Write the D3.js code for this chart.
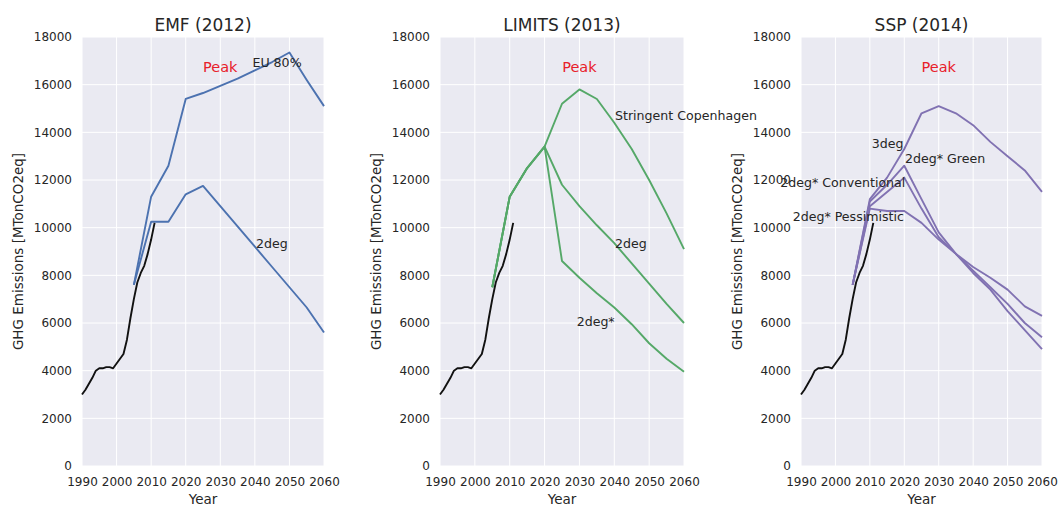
<!DOCTYPE html>
<html>
<head>
<meta charset="utf-8">
<script src="https://cdn.jsdelivr.net/npm/d3@7"></script>
<style>
  html, body { margin: 0; padding: 0; background: #fff; }
  svg { display: block; font-family: "DejaVu Sans", sans-serif; }
</style>
</head>
<body>
<svg id="chart" width="1059" height="506"></svg>
<script>
// ---------------- data ----------------
const histYears  = [1990,1991,1992,1993,1994,1995,1996,1997,1998,1999,2000,2001,2002,2003,2004,2005,2006,2007,2008,2009,2010,2011];
const histValues = [3000,3200,3450,3700,4000,4100,4100,4150,4150,4100,4300,4500,4700,5300,6200,7000,7700,8100,8400,8900,9500,10200];

const scenYears = [2005,2010,2015,2020,2025,2030,2035,2040,2045,2050,2055,2060];

// EMF (2012)
const emfEU80 = [7600,11300,12600,15400,15650,15950,16250,16600,16950,17350,16200,15100];
const emf2deg = [7600,10250,10250,11400,11750,10900,10050,9200,8350,7500,6650,5600];

// LIMITS (2013)
const limitsStringent = [7500,11300,12500,13400,15200,15800,15400,14400,13300,12000,10600,9100];
const limits2deg      = [7500,11300,12500,13400,11800,10900,10100,9350,8500,7650,6800,6000];
const limits2degStar  = [7500,11300,12500,13400,8600,7900,7250,6650,5950,5150,4500,3950];

// SSP (2014)
const ssp3deg          = [7600,11200,12100,13300,14800,15100,14800,14300,13600,13000,12400,11500];
const sspGreen         = [7600,11100,11800,12600,11200,9800,8900,8100,7400,6500,5700,4900];
const sspConventional  = [7600,10900,11500,12100,10800,9600,8900,8350,7900,7400,6700,6300];
const sspPessimistic   = [7600,10800,10700,10700,10200,9500,8900,8200,7500,6800,6000,5400];

const panelTitles = ["EMF (2012)", "LIMITS (2013)", "SSP (2014)"];
const xTicks = [1990,2000,2010,2020,2030,2040,2050,2060];
const yTicks = [0,2000,4000,6000,8000,10000,12000,14000,16000,18000];
const yLabel = "GHG Emissions [MTonCO2eq]";
const xLabel = "Year";
const peakLabel = "Peak";

// labels: [text, year, value, anchor]
const panels = [
  { title: panelTitles[0], color: "#4C72B0", left: 82, right: 324,
    series: [emfEU80, emf2deg],
    labels: [["EU 80%", 2039.3, 16950, "start"], ["2deg", 2040.3, 9350, "start"]] },
  { title: panelTitles[1], color: "#55A868", left: 440, right: 684,
    series: [limitsStringent, limits2deg, limits2degStar],
    labels: [["Stringent Copenhagen", 2040.2, 14700, "start"], ["2deg", 2040.2, 9350, "start"], ["2deg*", 2029.2, 6080, "start"]] },
  { title: panelTitles[2], color: "#8172B2", left: 801, right: 1042,
    series: [ssp3deg, sspGreen, sspConventional, sspPessimistic],
    labels: [["3deg", 2019.8, 13550, "end"], ["2deg* Green", 2020.2, 12920, "start"],
             ["2deg* Conventional", 2020.3, 11900, "end"], ["2deg* Pessimistic", 2019.9, 10450, "end"]] }
];

// ---------------- drawing ----------------
const svg = d3.select("#chart");
const plotTop = 37, plotBottom = 466;
const textColor = "#262626";

panels.forEach(p => {
  const x = d3.scaleLinear().domain([1990, 2060]).range([p.left, p.right]);
  const y = d3.scaleLinear().domain([0, 18000]).range([plotBottom, plotTop]);
  const g = svg.append("g");

  g.append("rect").attr("x", p.left).attr("y", plotTop)
    .attr("width", p.right - p.left).attr("height", plotBottom - plotTop)
    .attr("fill", "#EAEAF2");

  // grid
  g.selectAll(".vg").data(xTicks).enter().append("line")
    .attr("x1", d => x(d)).attr("x2", d => x(d)).attr("y1", plotTop).attr("y2", plotBottom)
    .attr("stroke", "#fff").attr("stroke-width", 1);
  g.selectAll(".hg").data(yTicks).enter().append("line")
    .attr("x1", p.left).attr("x2", p.right).attr("y1", d => y(d)).attr("y2", d => y(d))
    .attr("stroke", "#fff").attr("stroke-width", 1);

  // axes via d3
  const xAxis = d3.axisBottom(x).tickValues(xTicks).tickFormat(d3.format("d")).tickSize(0).tickPadding(11);
  const yAxis = d3.axisLeft(y).tickValues(yTicks).tickFormat(d3.format("d")).tickSize(0).tickPadding(10);
  const xa = g.append("g").attr("transform", `translate(0,${plotBottom})`).call(xAxis);
  const ya = g.append("g").attr("transform", `translate(${p.left},0)`).call(yAxis);
  [xa, ya].forEach(a => {
    a.select(".domain").remove();
    a.selectAll("text").attr("fill", textColor).style("font-size", "12px")
      .style("font-family", "DejaVu Sans, sans-serif");
  });

  const line = d3.line().x(d => x(d[0])).y(d => y(d[1]));

  // scenario lines
  p.series.forEach(s => {
    g.append("path").datum(scenYears.map((yr, i) => [yr, s[i]]))
      .attr("d", line).attr("fill", "none").attr("stroke", p.color)
      .attr("stroke-width", 1.9).attr("stroke-linejoin", "round");
  });

  // historical
  g.append("path").datum(histYears.map((yr, i) => [yr, histValues[i]]))
    .attr("d", line).attr("fill", "none").attr("stroke", "#111")
    .attr("stroke-width", 1.9).attr("stroke-linejoin", "round");

  // labels
  p.labels.forEach(l => {
    g.append("text").attr("x", x(l[1])).attr("y", y(l[2]))
      .attr("text-anchor", l[3]).attr("dominant-baseline", "central")
      .attr("fill", textColor).style("font-size", "12.6px").text(l[0]);
  });

  g.append("text").attr("x", x(2030)).attr("y", y(16740))
    .attr("text-anchor", "middle").attr("dominant-baseline", "central")
    .attr("fill", "#e8202a").style("font-size", "14.5px").text(peakLabel);

  // title
  g.append("text").attr("x", (p.left + p.right) / 2).attr("y", 31)
    .attr("text-anchor", "middle").attr("fill", textColor)
    .style("font-size", "17px").text(p.title);

  // x label
  g.append("text").attr("x", (p.left + p.right) / 2).attr("y", 504)
    .attr("text-anchor", "middle").attr("fill", textColor)
    .style("font-size", "13.5px").text(xLabel);

  // y label
  const yl = p.left - 64;
  g.append("text").attr("transform", `translate(${yl},${(plotTop + plotBottom) / 2}) rotate(-90)`)
    .attr("text-anchor", "middle").attr("dominant-baseline", "central")
    .attr("fill", textColor).style("font-size", "13.5px").text(yLabel);
});
</script>
</body>
</html>
